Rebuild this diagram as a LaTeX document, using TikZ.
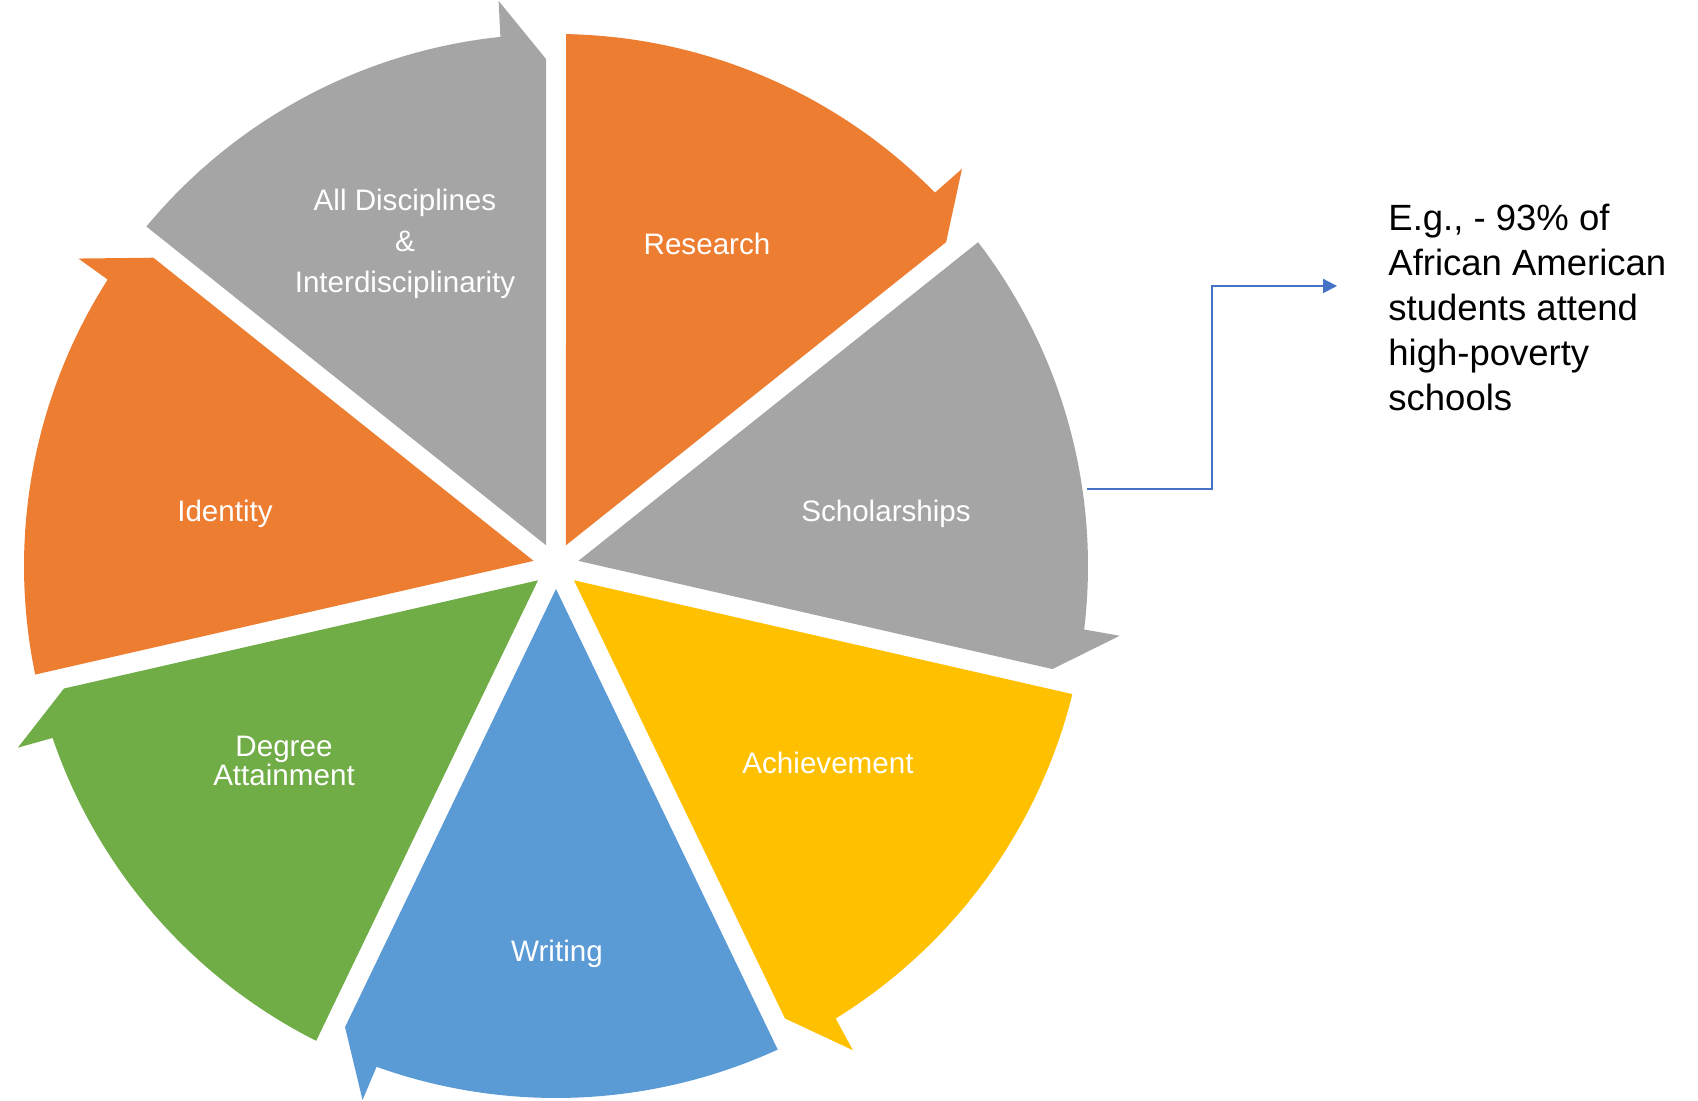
\documentclass[tikz,border=0pt]{standalone}
\usepackage{fontspec}
\setmainfont{Liberation Sans}
\usetikzlibrary{calc,arrows.meta}
\definecolor{segorange}{HTML}{ED7D31}
\definecolor{seggray}{HTML}{A5A5A5}
\definecolor{segyellow}{HTML}{FFC000}
\definecolor{segblue}{HTML}{5B9BD5}
\definecolor{seggreen}{HTML}{70AD47}
\definecolor{linkblue}{HTML}{4472C4}
% #1 start angle (counterclockwise end), #2 end angle (clockwise end, with arrow), #3 colour
\newcommand{\segpie}[3]{%
  \fill[#3] ({(#1+#2)/2}:23) -- ({#1-1.08}:532)
    arc[start angle={#1-1.08}, end angle={#2+6}, radius=532]
    -- ({#2+5.8}:568) -- ($(#2:507)+({#2+90}:10)$) -- cycle;}
\tikzset{
  seglabel/.style={text=white, align=center, inner sep=0pt,
    font=\fontsize{14.8}{20.5}\selectfont},
  notetext/.style={text=black, align=left, inner sep=0pt, anchor=north west,
    font=\fontsize{18.25}{22.5}\selectfont},
  link/.style={draw=linkblue, line width=1pt, -{Triangle[length=7pt,width=7pt]}}
}
\begin{document}
\begin{tikzpicture}[x=0.5pt,y=0.5pt]
\fill[white] (0,0) rectangle (1698,1101);
\useasboundingbox (0,0) rectangle (1698,1101);
\begin{scope}[shift={(556,535)}]
  \segpie{90}{38.571}{segorange}
  \segpie{38.571}{-12.857}{seggray}
  \segpie{-12.857}{-64.286}{segyellow}
  \segpie{-64.286}{-115.714}{segblue}
  \segpie{-115.714}{-167.143}{seggreen}
  \segpie{-167.143}{-218.571}{segorange}
  \segpie{-218.571}{-270}{seggray}
\end{scope}
\node[seglabel] (alld) at (405,857) {All Disciplines\\\&\\Interdisciplinarity};
\node[seglabel] (research) at (707,857) {Research};
\node[seglabel] (scholar) at (886,587) {Scholarships};
\node[seglabel] (identity) at (225,587) {Identity};
\node[seglabel] (achieve) at (828,338) {Achievement};
\node[seglabel, font=\fontsize{14.8}{14.5}\selectfont] (degree) at (284,340) {Degree\\Attainment};
\node[seglabel] (writing) at (557,147) {Writing};
\node[notetext] (note) at (1388,897) {E.g., - 93\% of\\African American\\students attend\\high-poverty\\schools};
\coordinate (sfrom) at (1087,612);
\coordinate (sto) at (1337,815);
\draw[link] (sfrom) -- ++(125,0) |- (sto);
\end{tikzpicture}
\end{document}
